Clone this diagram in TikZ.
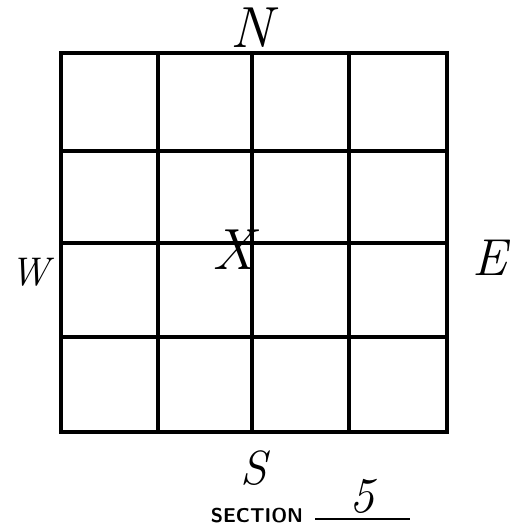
\documentclass[tikz,border=0pt]{standalone}
\usepackage{fontspec}
\begin{document}
\begin{tikzpicture}[x=1pt,y=-1pt]
\tikzset{hand/.style={font=\itshape\fontsize{58}{58}\selectfont, inner sep=0pt},
  gridline/.style={line width=3.4pt}}
\useasboundingbox (0,0) rectangle (522,530);
\draw[gridline] (61,53) rectangle (447,432);
\foreach \x in {158,252,349} \draw[gridline] (\x,53) -- (\x,432);
\foreach \y in {151,243,337} \draw[gridline] (61,\y) -- (447,\y);
\node[hand] (north) at (252,28) {N};
\node[hand, font=\itshape\fontsize{40}{40}\selectfont] (west) at (30,272) {W};
\node[hand, font=\itshape\fontsize{52}{52}\selectfont] (east) at (490,258) {E};
\node[hand, font=\itshape\fontsize{48}{48}\selectfont] (south) at (254,468) {S};
\node[hand] (mark) at (234,250) {X};
\node[font=\sffamily\bfseries\fontsize{20}{20}\selectfont, inner sep=0pt, anchor=base] (section) at (257,522) {SECTION};
\coordinate (blankL) at (315,519);
\coordinate (blankR) at (410,519);
\draw[line width=1.8pt] (blankL) -- (blankR);
\node[hand, font=\itshape\fontsize{50}{50}\selectfont] (secnum) at (362,496) {5};
\end{tikzpicture}
\end{document}
